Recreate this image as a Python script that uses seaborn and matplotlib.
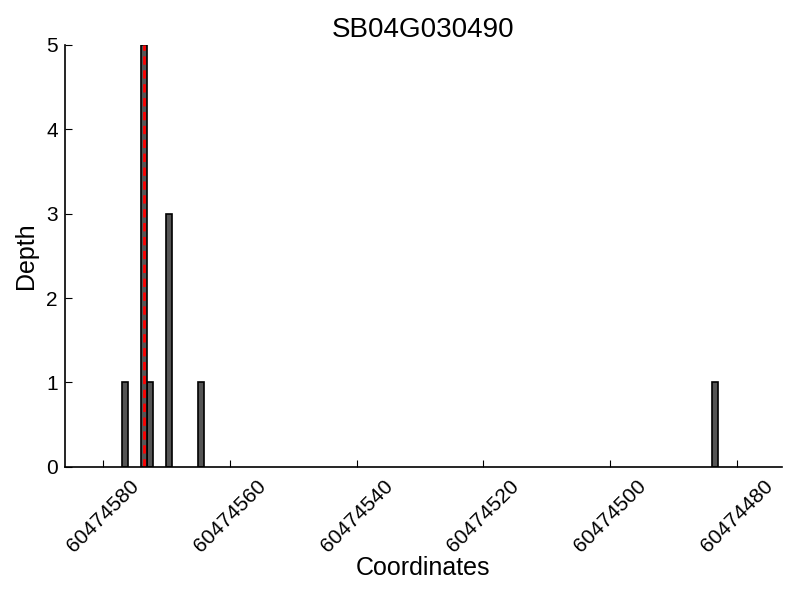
import numpy as np
import pandas as pd
import matplotlib
matplotlib.use("Agg")
import matplotlib.pyplot as plt
import seaborn as sns
from matplotlib.ticker import MultipleLocator

# read coverage for the gene region
gene = "SB04G030490"
coords = np.array([60474576, 60474573, 60474572, 60474569, 60474564, 60474483])
depth = np.array([1, 5, 1, 3, 1, 1])

sns.set_style("ticks")
plt.rcParams["font.family"] = ["Liberation Sans", "DejaVu Sans"]
plt.rcParams["xtick.direction"] = "in"
plt.rcParams["ytick.direction"] = "in"
plt.rcParams["text.color"] = "black"
plt.rcParams["axes.labelcolor"] = "black"
plt.rcParams["xtick.labelcolor"] = "black"
plt.rcParams["ytick.labelcolor"] = "black"

df = pd.DataFrame({"pos": coords + 0.5, "depth": depth})

fig, ax = plt.subplots(figsize=(8, 6), dpi=100)
fig.subplots_adjust(left=0.081, right=0.977, bottom=0.222, top=0.925)

sns.barplot(data=df, x="pos", y="depth", native_scale=True, width=0.95,
            color="#555555", saturation=1, edgecolor="black", linewidth=1.2, ax=ax)

# mark the deepest position
peak = coords[np.argmax(depth)] + 0.5
ax.axvline(peak, color="red", linestyle="--", linewidth=2, dashes=(3, 2))

ax.set_xlim(60474586, 60474473)
ax.set_ylim(0, 5)
ax.xaxis.set_major_locator(MultipleLocator(20))
ax.yaxis.set_major_locator(MultipleLocator(1))
ax.ticklabel_format(axis="x", useOffset=False, style="plain")
ax.tick_params(axis="x", labelsize=15, length=5, width=0.8, color="black", pad=7)
ax.tick_params(axis="y", labelsize=15, length=5, width=0.8, color="black", pad=5)
plt.setp(ax.get_xticklabels(), rotation=45)
for s in ["left", "bottom"]:
    ax.spines[s].set_color("black")
    ax.spines[s].set_linewidth(1.2)
sns.despine(ax=ax)

ax.set_title(gene, fontsize=20, color="black")
ax.set_xlabel("Coordinates", fontsize=18, labelpad=0)
ax.set_ylabel("Depth", fontsize=18, labelpad=6)

fig.savefig("out.png", dpi=100)
